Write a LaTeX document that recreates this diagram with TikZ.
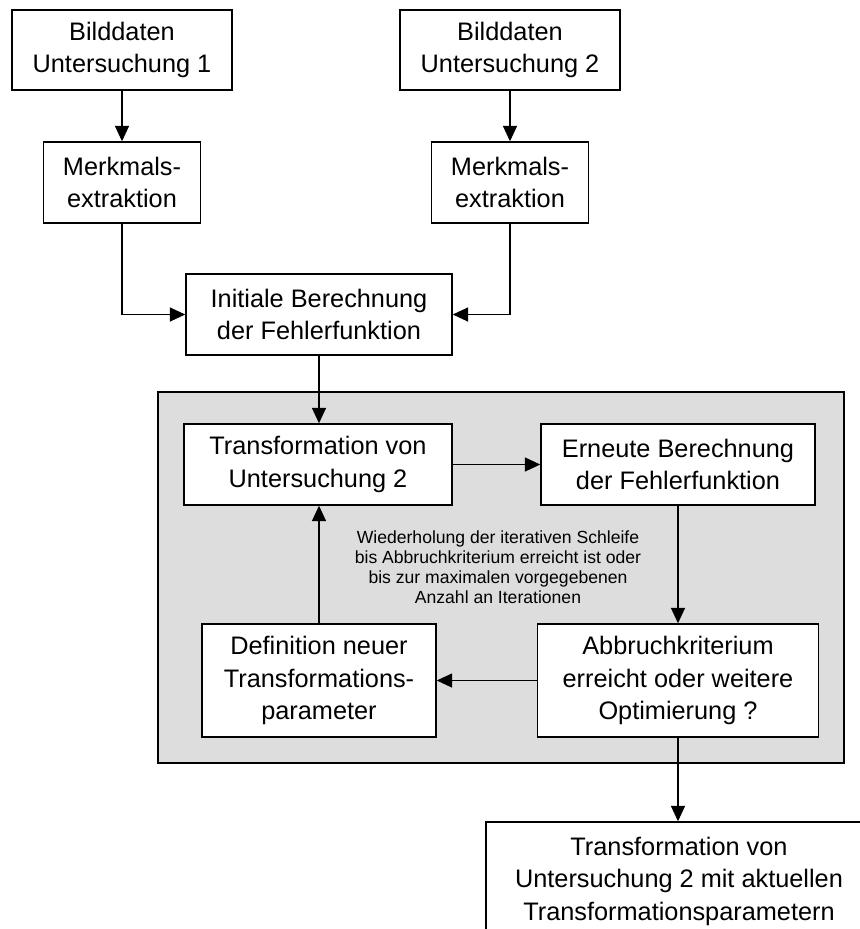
\documentclass[tikz,border=0pt]{standalone}
\usepackage{fontspec}
\setmainfont{Liberation Sans}
\usetikzlibrary{positioning,arrows.meta}
\definecolor{loopgray}{HTML}{DDDDDD}

\begin{document}
\begin{tikzpicture}[
    x=0.025cm, y=-0.025cm,
    stage/.style={rectangle, draw, fill=white, line width=1pt, align=center, inner sep=0pt, font=\fontsize{18}{23.1}\selectfont},
    loopframe/.style={rectangle, draw, fill=loopgray, line width=1pt, minimum width=17.15cm, minimum height=9.275cm},
    hint/.style={align=center, font=\fontsize{12.5}{14.2}\selectfont},
    flow/.style={-{Triangle[length=11pt,width=10pt]}, line width=1pt}
]
    \clip (0,0) rectangle (860,929);

    % Iteration frame
    \node[loopframe] (loop) at (501, 577.5) {};

    % Image data
    \node[stage, minimum width=5.5cm, minimum height=2cm] (bild1) at (122, 50) {Bilddaten\\Untersuchung 1};
    \node[stage, minimum width=5.5cm, minimum height=2cm] (bild2) at (510, 50) {Bilddaten\\Untersuchung 2};

    % Feature extraction
    \node[stage, minimum width=3.925cm, minimum height=2.025cm] (merk1) at (122, 182.5) {Merkmals-\\extraktion};
    \node[stage, minimum width=3.925cm, minimum height=2.025cm] (merk2) at (510, 182.5) {Merkmals-\\extraktion};

    % Initial error
    \node[stage, minimum width=6.65cm, minimum height=2.025cm] (init) at (319, 314.5) {Initiale Berechnung\\der Fehlerfunktion};

    % Iterative loop
    \node[stage, minimum width=6.7cm, minimum height=2.025cm] (trans) at (318, 464.5) {Transformation von\\Untersuchung 2};
    \node[stage, minimum width=6.85cm, minimum height=2.025cm] (erneut) at (678, 464.5) {Erneute Berechnung\\der Fehlerfunktion};
    \node[stage, minimum width=5.85cm, minimum height=2.825cm] (defin) at (319, 680.5) {Definition neuer\\Transformations-\\parameter};
    \node[stage, minimum width=7.025cm, minimum height=2.825cm] (abbruch) at (678, 680.5) {Abbruchkriterium\\erreicht oder weitere\\Optimierung ?};
    \node[hint] (note) at (498, 567.5) {Wiederholung der iterativen Schleife\\bis Abbruchkriterium erreicht ist oder\\bis zur maximalen vorgegebenen\\Anzahl an Iterationen};

    % Result
    \node[stage, minimum width=9.65cm, minimum height=2.95cm] (final) at (679, 881) {Transformation von\\Untersuchung 2 mit aktuellen\\Transformationsparametern};

    % Arrows
    \draw[flow] (bild1) -- (merk1);
    \draw[flow] (bild2) -- (merk2);
    \draw[flow] (merk1.south) |- (init.west);
    \draw[flow] (merk2.south) |- (init.east);
    \draw[flow] (init.south) -- (init.south |- trans.north);
    \draw[flow] (trans) -- (erneut);
    \draw[flow] (erneut) -- (abbruch);
    \draw[flow] (abbruch) -- (defin);
    \draw[flow] (defin.north) -- (defin.north |- trans.south);
    \draw[flow] (abbruch.south) -- (abbruch.south |- final.north);
\end{tikzpicture}
\end{document}
